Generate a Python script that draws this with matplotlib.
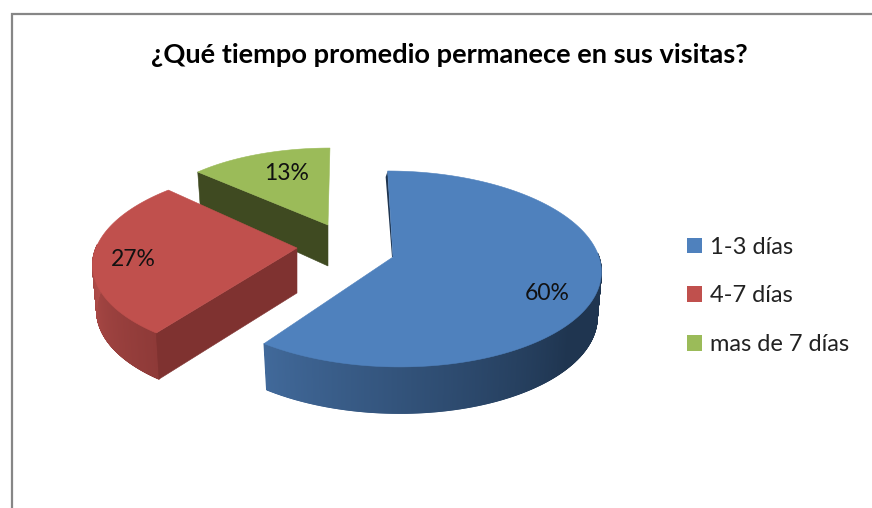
# -*- coding:utf-8 -*-
import numpy as np
from matplotlib import pyplot as plt
from matplotlib.collections import PolyCollection
from matplotlib.colors import to_rgb
from matplotlib.patches import Patch

plt.rcParams['font.family'] = ['Lato', 'DejaVu Sans']

title = "¿Qué tiempo promedio permanece en sus visitas?"
categories = ["1-3 días", "4-7 días", "mas de 7 días"]
values = [60, 27, 13]
colors = ['#4f81bd', '#c0504d', '#9bbb59']
label_pos = [(547, 292), (133, 259), (287, 173)]

# apex, radii and perspective of each exploded slice (pixels of the picture)
geometry = [
    dict(x0=393, y0=257, R=206, ry=96.5, k=0.122, h=6, t=45, kt=0.03),
    dict(x0=297, y0=248, R=201, ry=92.9, k=0.143, h=-7.8, t=45, kt=0.03),
    dict(x0=328, y0=225, R=183, ry=78.5, k=0.02, h=-2, t=41, kt=0.2),
]
# outer wall: angles drawn, and colours from light to dark
walls = [
    dict(a=216, b=130, stop=88, light='#41699a', dark='#1f3550'),
    dict(a=272, b=216, stop=216, light='#b04c49', dark='#8e3a38'),
    None,
]
cut_colors = [None, '#7f3230', '#3f4a21']
SHRINK = 0.98


def project(theta, g):
    th = np.radians(theta)
    u, v = np.sin(th), -np.cos(th)
    s = 1 / (1 - g['k'] * v)
    return g['x0'] + (g['R'] * u + g['h'] * v) * s, g['y0'] + g['ry'] * v * s


def project_low(theta, g):
    x, y = project(theta, g)
    v = -np.cos(np.radians(theta))
    return g['x0'] + (x - g['x0']) * SHRINK, y + g['t'] / (1 - g['kt'] * v)


fig = plt.figure(figsize=(8.72, 5.08), dpi=100, facecolor='white')
ax = fig.add_axes([0, 0, 1, 1])
ax.set_xlim(0, 872)
ax.set_ylim(508, 0)
ax.axis('off')

# chart border
ax.plot([12, 12, 872], [508, 14, 14], color='#868686', lw=1.6, solid_joinstyle='miter')

edges = np.cumsum([0] + values) * 3.6
# back to front: green, red, blue
for i in [2, 1, 0]:
    g = geometry[i]
    start, end = edges[i], edges[i + 1]
    wall = walls[i]
    if wall is not None:
        lo = max(start, min(wall['b'], wall['stop']))
        th = np.linspace(lo, min(end, wall['a']), 500)
        lx, ly = project(th, g)
        bx, by = project_low(th, g)
        quads, cols = [], []
        for j in range(len(th) - 1):
            quads.append([(lx[j], ly[j]), (lx[j + 1], ly[j + 1]),
                          (bx[j + 1], by[j + 1]), (bx[j], by[j])])
            f = np.clip((th[j] - wall['a']) / (wall['b'] - wall['a']), 0, 1)
            c1, c2 = np.array(to_rgb(wall['light'])), np.array(to_rgb(wall['dark']))
            cols.append(c1 + (c2 - c1) * f)
        ax.add_collection(PolyCollection(quads, facecolors=cols, edgecolors=cols,
                                         linewidths=0.8, antialiaseds=True))
    if cut_colors[i] is not None:
        # flat face of the cut that looks at the viewer
        cx, cy = project(start, g)
        dx, dy = project_low(start, g)
        ax.fill([g['x0'], cx, dx, g['x0']],
                [g['y0'], cy, dy, g['y0'] + g['t']],
                color=cut_colors[i], lw=0.4)
    th = np.linspace(start, end, 200)
    tx, ty = project(th, g)
    if i == 0:
        # thin dark sliver on the vertical cut of the big slice
        ax.fill([tx[0], tx[0] - 2, g['x0'] - 1, g['x0']],
                [ty[0], ty[0] + 6, g['y0'], g['y0']], color='#1f3550', lw=0)
    ax.fill(np.r_[g['x0'], tx], np.r_[g['y0'], ty], color=colors[i], lw=0.4)

for value, pos in zip(values, label_pos):
    ax.text(pos[0], pos[1] + 1, "%d%%" % value, fontsize=16.5, ha='center', va='center', color='#111111')

ax.text(449, 55, title, fontsize=19.6, fontweight='bold', ha='center', va='center', color='black')

handles = [Patch(facecolor=c, edgecolor='none') for c in colors]
ax.legend(handles, categories, loc='center left', bbox_to_anchor=(687, 296),
          bbox_transform=ax.transData, frameon=False, fontsize=17, labelcolor='#222222',
          handlelength=0.64, handleheight=0.64, handletextpad=0.32, labelspacing=1.17,
          borderpad=0, borderaxespad=0)

plt.savefig('out.png', dpi=100)
